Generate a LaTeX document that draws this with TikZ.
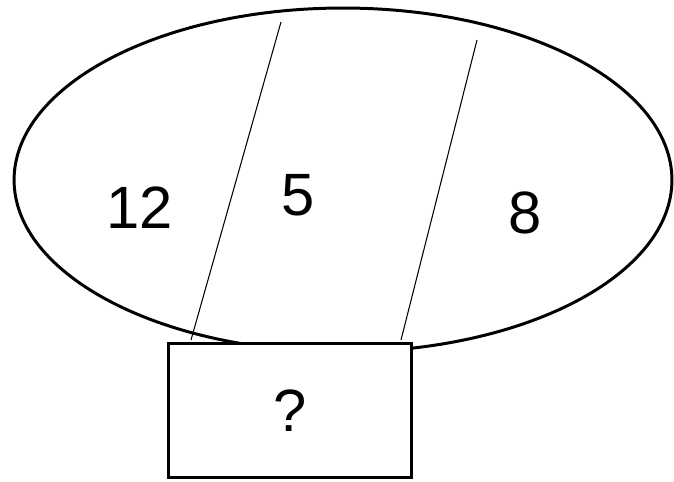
\documentclass[tikz,border=0pt]{standalone}
\usepackage{fontspec}
\setmainfont{Liberation Sans}
\usetikzlibrary{shapes.geometric}

\begin{document}
\begin{tikzpicture}[
    x=0.02cm, y=-0.02cm,
    region/.style={draw=black, line width=1.7pt, ellipse, inner sep=0pt,
        minimum width=13.16cm, minimum height=6.88cm},
    divider/.style={draw=black, line width=0.6pt},
    answer/.style={draw=black, line width=1.7pt, fill=white, inner sep=0pt,
        minimum width=4.86cm, minimum height=2.7cm},
    count/.style={font=\fontsize{34}{40}\selectfont}
]

% Stable crop.
\path[use as bounding box] (0,0) rectangle (674,482);

% Set and its parts
\node[region] (set) at (343,180) {};

\coordinate (cutAtop) at (281,22);
\coordinate (cutAbot) at (191,340);
\coordinate (cutBtop) at (477,40);
\coordinate (cutBbot) at (401,340);

\draw[divider] (cutAtop) -- (cutAbot);
\draw[divider] (cutBtop) -- (cutBbot);

\node[count] (left)   at (140,208) {12};
\node[count] (middle) at (298,195) {5};
\node[count] (right)  at (525,213) {8};

% Unknown value
\node[answer, count] (unknown) at (290,410.5) {?};

\end{tikzpicture}
\end{document}
